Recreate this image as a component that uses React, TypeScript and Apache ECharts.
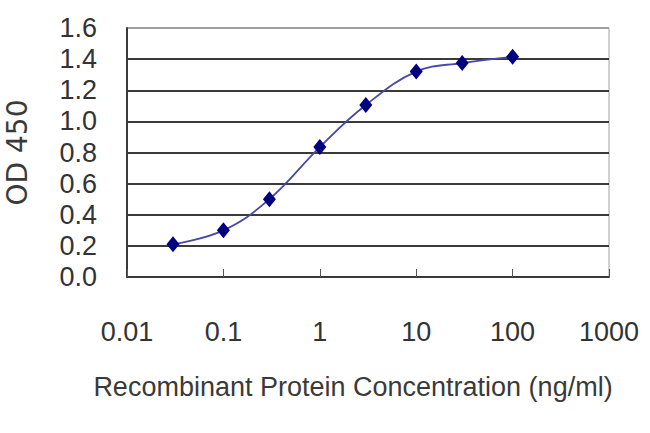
import React, { useEffect, useRef } from "react";
import * as echarts from "echarts";

const concentrations = [0.03, 0.1, 0.3, 1, 3, 10, 30, 100];
const odValues = [0.21, 0.3, 0.5, 0.835, 1.105, 1.32, 1.375, 1.415];
const xTickLabels = ["0.01", "0.1", "1", "10", "100", "1000"];
const yTickLabels = ["0.0", "0.2", "0.4", "0.6", "0.8", "1.0", "1.2", "1.4", "1.6"];
const xTitle = "Recombinant Protein Concentration (ng/ml)";
const yTitle = "OD 450";

const FONT = "'Liberation Sans', Arial, sans-serif";

export default function App() {
  const ref = useRef<HTMLDivElement>(null);
  useEffect(() => {
    if (!ref.current) return;
    const chart = echarts.init(ref.current, null, { renderer: "svg" });
    const xMap: Record<string, string> = {};
    xTickLabels.forEach((t) => (xMap[String(Number(t))] = t));
    chart.setOption({
      animation: false,
      backgroundColor: "#ffffff",
      grid: {
        left: 127,
        right: 41,
        top: 28,
        bottom: 156,
        show: true,
        borderColor: "#a0a0a0",
        borderWidth: 1,
        containLabel: false,
        outerBoundsMode: "none",
      },
      xAxis: {
        type: "log",
        logBase: 10,
        min: 0.01,
        max: 1000,
        name: xTitle,
        nameLocation: "middle",
        nameGap: 96,
        nameTextStyle: {
          fontFamily: FONT,
          fontSize: 27,
          color: "#3a3a3a",
          padding: [0, 30, 0, 0],
        },
        axisLine: { show: true, lineStyle: { color: "#3a3a3a", width: 2 } },
        axisTick: { show: true, inside: true, length: 8, lineStyle: { color: "#555", width: 1 } },
        axisLabel: {
          margin: 41,
          fontFamily: FONT,
          fontSize: 27,
          color: "#333",
          formatter: (v: number) => {
            const k = String(Number(v.toPrecision(6)));
            return xMap[k] ?? k;
          },
        },
        splitLine: { show: false },
        minorTick: { show: false },
      },
      yAxis: {
        type: "value",
        min: 0,
        max: 1.6,
        interval: 0.2,
        name: yTitle,
        nameLocation: "middle",
        nameGap: 96,
        nameTextStyle: {
          fontFamily: "'DejaVu Sans', sans-serif",
          fontSize: 28,
          color: "#3a3a3a",
        },
        axisLine: { show: true, lineStyle: { color: "#3a3a3a", width: 2 } },
        axisTick: { show: false },
        axisLabel: {
          margin: 30,
          fontFamily: FONT,
          fontSize: 27,
          color: "#333",
          formatter: (v: number) => yTickLabels[Math.round(v / 0.2)] ?? v.toFixed(1),
        },
        splitLine: {
          show: true,
          lineStyle: {
            color: ["#3a3a3a", "#3a3a3a", "#3a3a3a", "#3a3a3a", "#3a3a3a", "#3a3a3a", "#3a3a3a", "#3a3a3a", "#a0a0a0"],
            width: 2,
          },
        },
      },
      series: [
        {
          type: "line",
          data: concentrations.map((c, i) => [c, odValues[i]]),
          smooth: 0.4,
          symbol: "diamond",
          symbolSize: [13, 16],
          itemStyle: { color: "#00007f" },
          lineStyle: { color: "#4848a8", width: 1.8 },
        },
      ],
    });
    return () => chart.dispose();
  }, []);
  return (
    <div
      ref={ref}
      style={{ position: "fixed", left: 0, top: 0, width: 650, height: 433, background: "#fff" }}
    />
  );
}
